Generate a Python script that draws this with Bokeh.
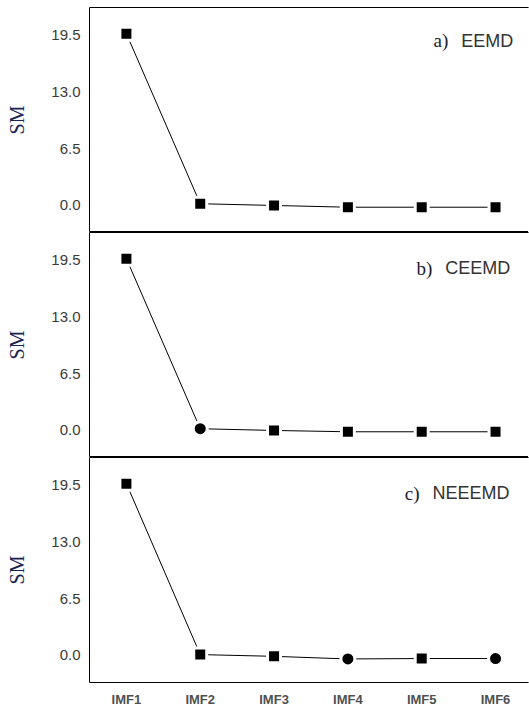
from bokeh.plotting import figure
from bokeh.layouts import column
from bokeh.models import Range1d, FixedTicker, Label, NumeralTickFormatter, ColumnDataSource, Span
from bokeh.embed import file_html
from bokeh.resources import INLINE

# ---- data ----
imf_labels = ["IMF1", "IMF2", "IMF3", "IMF4", "IMF5", "IMF6"]
imf_pos = [1, 2, 3, 4, 5, 6]
sm_eemd = [19.7, 0.2, 0.0, -0.2, -0.2, -0.2]
sm_ceemd = [19.7, 0.2, 0.0, -0.15, -0.15, -0.15]
sm_neeemd = [19.7, 0.1, -0.1, -0.4, -0.35, -0.35]
mk_eemd = ["square", "square", "square", "square", "square", "square"]
mk_ceemd = ["square", "circle", "square", "square", "square", "square"]
mk_neeemd = ["square", "square", "square", "circle", "square", "circle"]
panel_tags = ["a)", "b)", "c)"]
panel_names = ["EEMD", "CEEMD", "NEEEMD"]
y_ticks = [0.0, 6.5, 13.0, 19.5]

EM = {"E": 0.667, "C": 0.722, "M": 0.833, "D": 0.722, "N": 0.722}
SANS_PX = 18
X_END = 6.46


def make_panel(vals, marks, tag, name, show_x, top, ann_y, ann_right):
    p = figure(
        width=529,
        frame_height=225,
        x_range=Range1d(0.5, X_END),
        y_range=Range1d(-3.1, 22.7),
        output_backend="svg",
        toolbar_location=None,
        x_axis_location="below" if show_x else None,
        min_border_left=89,
        min_border_right=0,
        min_border_top=top,
        min_border_bottom=0,
        background_fill_color="white",
        border_fill_color="white",
    )
    p.outline_line_color = "black"
    p.outline_line_width = 1
    p.grid.visible = False

    yax = p.yaxis[0]
    yax.ticker = FixedTicker(ticks=y_ticks)
    yax.formatter = NumeralTickFormatter(format="0.0")
    yax.axis_line_color = None
    yax.major_tick_line_color = None
    yax.minor_tick_line_color = None
    yax.major_tick_out = 0
    yax.major_tick_in = 0
    yax.minor_tick_out = 0
    yax.major_label_standoff = 9
    yax.major_label_text_font = "Liberation Sans"
    yax.major_label_text_font_size = "15px"
    yax.major_label_text_color = "#3a3a3a"
    yax.axis_label = "SM"
    yax.axis_label_text_font = "Liberation Serif"
    yax.axis_label_text_font_size = "20px"
    yax.axis_label_text_font_style = "normal"
    yax.axis_label_text_color = "#1a2350"
    yax.axis_label_standoff = 20

    if show_x:
        xax = p.xaxis[0]
        xax.ticker = FixedTicker(ticks=imf_pos)
        xax.major_label_overrides = {k: v for k, v in zip(imf_pos, imf_labels)}
        xax.axis_line_color = None
        xax.major_tick_line_color = None
        xax.minor_tick_line_color = None
        xax.major_tick_out = 0
        xax.major_tick_in = 0
        xax.minor_tick_out = 0
        xax.major_label_standoff = 9
        xax.major_label_text_font = "Liberation Sans"
        xax.major_label_text_font_size = "13px"
        xax.major_label_text_font_style = "bold"
        xax.major_label_text_color = "#505050"

    # the reference frame runs past the window's right edge: hide its right side
    p.add_layout(Span(location=X_END, dimension="height", line_color="white",
                      line_width=3, level="overlay"))

    src = ColumnDataSource(dict(
        x=imf_pos, y=vals, m=marks,
        s=[13 if mm == "square" else 14 for mm in marks],
    ))
    p.line("x", "y", source=src, line_color="black", line_width=1)
    p.scatter("x", "y", source=src, marker="m", size="s",
              fill_color="black", line_color="white", line_width=3)

    w = SANS_PX * sum(EM[c] for c in name)
    p.add_layout(Label(x=ann_right, y=ann_y, text=name, text_align="right",
                       text_baseline="middle", text_font="Liberation Sans",
                       text_font_size=f"{SANS_PX}px", text_color="#333333"))
    p.add_layout(Label(x=ann_right, y=ann_y, x_offset=-(w + 13), text=tag,
                       text_align="right", text_baseline="middle",
                       text_font="Liberation Serif", text_font_size="19px",
                       text_color="#1a1a2e"))
    return p


p1 = make_panel(sm_eemd, mk_eemd, panel_tags[0], panel_names[0], False, 7, 18.9, 6.24)
p2 = make_panel(sm_ceemd, mk_ceemd, panel_tags[1], panel_names[1], False, 0, 18.6, 6.20)
p3 = make_panel(sm_neeemd, mk_neeemd, panel_tags[2], panel_names[2], True, 0, 18.6, 6.19)

layout = column(p1, p2, p3, spacing=0)

open("out.html", "w").write(file_html(layout, INLINE))
